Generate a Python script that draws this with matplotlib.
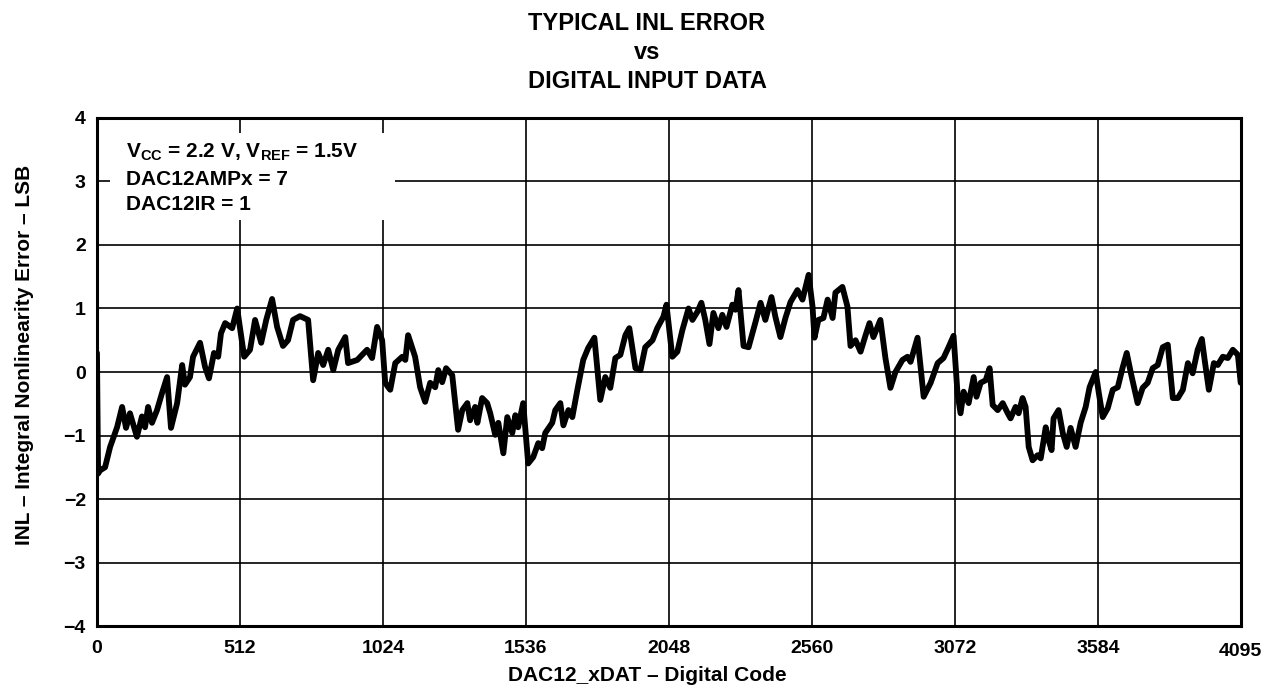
import matplotlib
matplotlib.use("Agg")
import matplotlib.pyplot as plt
from matplotlib.patches import Rectangle
from matplotlib.transforms import ScaledTranslation

plt.rcParams['font.family'] = ['Liberation Sans', 'DejaVu Sans']
plt.rcParams['mathtext.fontset'] = 'custom'
plt.rcParams['mathtext.rm'] = 'Liberation Sans:bold'
plt.rcParams['mathtext.bf'] = 'Liberation Sans:bold'

# digital code vs INL (LSB)
codes = [0, 4, 11, 29, 47, 72, 90, 104, 118, 143, 161, 172, 183, 197, 215, 233, 251, 265,
         287, 305, 315, 333, 344, 369, 387, 401, 419, 434, 444, 459, 484, 502, 527, 548,
         566, 588, 606, 627, 645, 666, 684, 702, 727, 756, 774, 792, 810, 828, 846, 864,
         889, 899, 932, 967, 985, 1003, 1021, 1032, 1043,
         1050, 1068, 1093, 1104, 1114, 1139, 1157, 1175, 1193, 1211, 1222, 1236, 1250,
         1272, 1293, 1308, 1326, 1336, 1354, 1362, 1379, 1397, 1408, 1426, 1437, 1455,
         1469, 1487, 1498, 1508, 1526, 1544, 1562, 1580, 1594, 1605, 1630, 1641, 1659,
         1670, 1688, 1702, 1720, 1741, 1759, 1781, 1802, 1820, 1838, 1856, 1874, 1892,
         1906, 1928, 1946, 1963, 1989, 2006, 2028, 2039,
         2060, 2078, 2096, 2118, 2132, 2150, 2164, 2178, 2193, 2207, 2225, 2239, 2254,
         2275, 2286, 2297, 2315, 2333, 2358, 2376, 2393, 2415, 2429, 2447, 2465, 2483,
         2508, 2526, 2548, 2562, 2569, 2583, 2601, 2616, 2634, 2644, 2669, 2687, 2698,
         2716, 2734, 2752, 2766, 2780, 2805, 2823, 2841, 2859, 2884, 2902, 2913, 2938,
         2960, 2985, 3010, 3031, 3049, 3067,
         3081, 3092, 3103, 3121, 3139, 3149, 3164, 3182, 3196, 3207, 3225, 3243, 3261,
         3271, 3289, 3300, 3314, 3325, 3336, 3350, 3368, 3379, 3397, 3407, 3418, 3425,
         3443, 3458, 3472, 3486, 3504, 3522, 3540, 3554, 3576, 3587, 3601, 3619, 3637,
         3655, 3673, 3687, 3701, 3726, 3744, 3762, 3780, 3798, 3816, 3834, 3852, 3870,
         3888, 3906, 3923, 3941, 3956, 3966, 3981, 3999, 4013, 4031, 4049, 4067, 4085, 4095]
inl = [0.3, -1.6, -1.55, -1.5, -1.18, -0.87, -0.55, -0.88, -0.65, -1.02, -0.7, -0.87, -0.55,
       -0.8, -0.6, -0.33, -0.08, -0.88, -0.49, 0.11, -0.2, -0.08, 0.24, 0.46, 0.08, -0.1,
       0.3, 0.24, 0.61, 0.77, 0.69, 1.0, 0.24, 0.35, 0.82, 0.46, 0.82, 1.15, 0.71, 0.41,
       0.5, 0.82, 0.88, 0.82, -0.13, 0.3, 0.11, 0.35, 0.03, 0.35, 0.55, 0.14, 0.19, 0.35,
       0.22, 0.71, 0.5, -0.17, -0.24,
       -0.28, 0.14, 0.24, 0.19, 0.58, 0.24, -0.24, -0.47, -0.17, -0.24, 0.03, -0.16, 0.06,
       -0.05, -0.91, -0.6, -0.49, -0.76, -0.55, -0.8, -0.41, -0.49, -0.65, -0.99, -0.8,
       -1.28, -0.71, -0.96, -0.68, -0.87, -0.49, -1.44, -1.34, -1.12, -1.2, -0.96, -0.8,
       -0.6, -0.49, -0.84, -0.6, -0.71, -0.28, 0.19, 0.38, 0.54, -0.44, -0.08, -0.25,
       0.22, 0.27, 0.58, 0.69, 0.06, 0.03, 0.39, 0.5, 0.69, 0.87, 1.06,
       0.24, 0.32, 0.66, 1.0, 0.82, 0.95, 1.09, 0.82, 0.44, 0.93, 0.69, 0.9, 0.71,
       1.06, 0.98, 1.29, 0.41, 0.39, 0.79, 1.09, 0.82, 1.18, 0.87, 0.55, 0.85, 1.1,
       1.29, 1.14, 1.53, 1.03, 0.54, 0.82, 0.85, 1.14, 0.85, 1.25, 1.34, 1.03, 0.41,
       0.5, 0.32, 0.58, 0.77, 0.55, 0.82, 0.22, -0.25, 0.0, 0.19, 0.24, 0.16, 0.54,
       -0.39, -0.17, 0.14, 0.22, 0.39, 0.57,
       -0.33, -0.65, -0.31, -0.49, -0.08, -0.39, -0.17, -0.13, 0.06, -0.52, -0.6, -0.49,
       -0.65, -0.73, -0.55, -0.65, -0.41, -0.55, -1.18, -1.39, -1.31, -1.36, -0.87, -1.07,
       -1.23, -0.73, -0.6, -0.96, -1.18, -0.88, -1.18, -0.8, -0.55, -0.24, 0.0, -0.33,
       -0.71, -0.57, -0.28, -0.24, 0.08, 0.3, 0.0, -0.49, -0.25, -0.17, 0.06, 0.11, 0.39,
       0.43, -0.41, -0.41, -0.28, 0.14, -0.02, 0.35, 0.52, 0.19, -0.28, 0.14, 0.11, 0.24,
       0.22, 0.35, 0.27, -0.17]

xticks = [0, 512, 1024, 1536, 2048, 2560, 3072, 3584, 4095]
yticks = [-4, -3, -2, -1, 0, 1, 2, 3, 4]
title_lines = ['TYPICAL INL ERROR', 'vs', 'DIGITAL INPUT DATA']
notes = [r'$\mathbf{V_{CC}}$ = 2.2 V, $\mathbf{V_{REF}}$ = 1.5V', 'DAC12AMPx = 7', 'DAC12IR = 1']

fig = plt.figure(figsize=(12.66, 6.88), dpi=100)
ax = fig.add_axes([0.0766, 0.0901, 0.9034, 0.7384])

ax.plot(codes, inl, color='black', linewidth=4.2, solid_joinstyle='round',
        solid_capstyle='round', zorder=3)

ax.set_xlim(0, 4095)
ax.set_ylim(-4, 4)
ax.set_xticks(xticks)
ax.set_yticks(yticks)
ax.set_xticklabels([str(t) for t in xticks])
ax.set_yticklabels([str(t).replace('-', '\u2212') for t in yticks])
ax.grid(True, color='black', linewidth=1.2)
ax.set_axisbelow(True)
ax.tick_params(length=0, labelsize=14)
ax.tick_params(axis='x', pad=10)
ax.tick_params(axis='y', pad=8)
for lab in ax.get_xticklabels() + ax.get_yticklabels():
    lab.set_fontweight('bold')
# last x label sits a little lower in the original
last = ax.get_xticklabels()[-1]
last.set_transform(last.get_transform() + ScaledTranslation(0, -2.5 / 72, fig.dpi_scale_trans))
for s in ax.spines.values():
    s.set_linewidth(2.2)

# white note box over the grid
ax.add_patch(Rectangle((0.011, 0.80), 0.25, 0.17, transform=ax.transAxes,
                       facecolor='white', edgecolor='none', zorder=2))
for y, txt in zip([0.921, 0.868, 0.819], notes):
    ax.text(0.025, y, txt, transform=ax.transAxes, fontsize=15, fontweight='bold',
            va='baseline', zorder=4)

fig.text(647 / 1266, 1 - 681 / 688, 'DAC12_xDAT \u2013 Digital Code', ha='center', va='baseline',
         fontsize=15, fontweight='bold')
fig.text(25 / 1266, 1 - 355 / 688, 'INL \u2013 Integral Nonlinearity Error \u2013 LSB',
         ha='center', va='center', rotation=90, fontsize=15, fontweight='bold')

for y, txt in zip([0.956, 0.914, 0.872], title_lines):
    fig.text(647 / 1266, y, txt, ha='center', va='baseline', fontsize=17, fontweight='bold')

fig.savefig('out.png', dpi=100)
